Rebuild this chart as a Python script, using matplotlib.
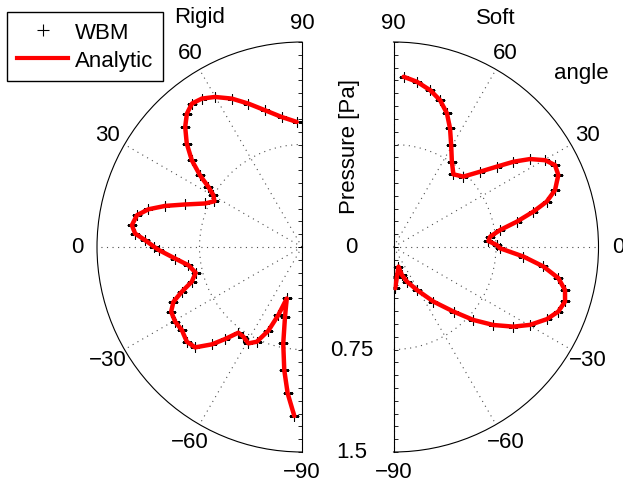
import numpy as np
import matplotlib
matplotlib.use('Agg')
import matplotlib.pyplot as plt
import matplotlib.transforms as mtransforms
from matplotlib.lines import Line2D
from matplotlib.ticker import MultipleLocator

plt.rcParams['font.family'] = ['Liberation Sans', 'DejaVu Sans']

# ---------------- data (angle in degrees, pressure in Pa) ----------------
rigid_angle = [87.6, 81.1, 74.9, 69.5, 64.7, 59.9, 56.0, 52.5, 49.2, 45.8,
               41.9, 38.2, 35.1, 32.7, 30.3, 27.6, 24.2, 20.0, 16.7, 13.8,
               10.9, 7.3, 4.6, 2.5, 0.0, -1.3, -5.2, -9.1, -13.6, -17.5,
               -20.4, -23.1, -26.3, -30.5, -34.7, -39.4, -43.2, -47.2, -50.1, -53.4,
               -56.8, -60.9, -64.5, -68.1, -70.8, -73.5, -76.3, -79.0, -81.8, -84.4,
               -87.4]
rigid_pressure = [0.916, 0.963, 1.036, 1.120, 1.201, 1.269, 1.310, 1.323, 1.289, 1.226,
                  1.133, 1.026, 0.912, 0.814, 0.751, 0.723, 0.777, 0.910, 1.046, 1.157,
                  1.230, 1.255, 1.225, 1.149, 1.080, 1.045, 0.932, 0.842, 0.800, 0.846,
                  0.938, 1.023, 1.068, 1.077, 1.069, 1.091, 1.073, 0.971, 0.878, 0.781,
                  0.784, 0.807, 0.768, 0.660, 0.528, 0.393, 0.525, 0.719, 0.910, 1.076,
                  1.238]

soft_angle = [86.6, 81.9, 76.8, 72.4, 68.2, 64.5, 60.5, 55.6, 50.5, 45.2,
              41.0, 37.9, 35.4, 32.8, 29.8, 26.9, 23.6, 19.4, 16.5, 14.2,
              11.6, 9.05, 6.1, 3.6, 1.1, -0.7, -4.2, -7.4, -10.7, -14.1,
              -17.6, -21.4, -25.2, -29.7, -33.6, -38.0, -42.4, -47.1, -53.8, -61.4,
              -68.8, -73.3, -75.7, -83.4, -87.6]
soft_pressure = [1.248, 1.221, 1.178, 1.127, 1.053, 0.961, 0.857, 0.756, 0.689, 0.726,
                 0.840, 0.957, 1.077, 1.188, 1.278, 1.325, 1.316, 1.253, 1.169, 1.056,
                 0.921, 0.790, 0.711, 0.696, 0.756, 0.780, 0.953, 1.106, 1.228, 1.294,
                 1.317, 1.295, 1.240, 1.150, 1.053, 0.927, 0.792, 0.645, 0.495, 0.358,
                 0.271, 0.214, 0.148, 0.218, 0.302]

theta_ticks = [-90, -60, -30, 0, 30, 60, 90]
theta_labels = ['\u221290', '\u221260', '\u221230', '0', '30', '60', '90']
r_ticks = [0, 0.75, 1.5]
r_labels = ['0', '0.75', '1.5']
r_max = 1.5
series_labels = ['WBM', 'Analytic']

# ---------------- figure ----------------
W, H = 623, 485
fig = plt.figure(figsize=(W / 100, H / 100), dpi=100)
FS = 16


def make_ax(x_center, zero_loc, direction):
    # square box (polar axes keep equal aspect); the half-disc is centred in it
    side = 410
    rect = [(x_center - side / 2) / W, 32 / H, side / W, side / H]
    ax = fig.add_axes(rect, projection='polar')
    ax.set_theta_zero_location(zero_loc)
    ax.set_theta_direction(direction)
    ax.set_thetamin(-90)
    ax.set_thetamax(90)
    ax.set_rlim(0, r_max)
    ax.set_thetagrids(theta_ticks, theta_labels, fontsize=FS)
    ax.set_rgrids([0.75], labels=[''])
    ax.yaxis.set_minor_locator(MultipleLocator(r_max / 16))
    ax.grid(True, linestyle=(0, (1, 4)), color='0.3', linewidth=0.8)
    ax.tick_params(axis='x', length=0, pad=7)
    ax.yaxis.set_tick_params(which='both', tick1On=True, tick2On=True,
                             label1On=False, label2On=False,
                             direction='in', length=3, width=0.6, color='k')
    for sp in ax.spines.values():
        sp.set_color('k')
        sp.set_linewidth(0.8)
    return ax


axL = make_ax(199.5, 'W', -1)
axR = make_ax(496.0, 'E', 1)

for ax, ang, p in [(axL, rigid_angle, rigid_pressure), (axR, soft_angle, soft_pressure)]:
    th = np.deg2rad(ang)
    ax.plot(th, p, linestyle='none', marker='+', ms=7, mec='k', mew=0.8, zorder=3)
    ax.plot(th, p, color='red', lw=3.2, zorder=4, solid_capstyle='round')

# radial tick labels (between the two half plots)
off = mtransforms.offset_copy(axR.transData, fig=fig, x=-42, y=0, units='dots')
for r, lab in zip(r_ticks, r_labels):
    axR.text(np.deg2rad(-90), r, lab, transform=off, ha='center', va='center', fontsize=FS)

fig.text(350 / W, 1 - 146 / H, 'Pressure [Pa]', rotation=90, ha='center', va='center', fontsize=FS)
fig.text(200 / W, 1 - 18 / H, 'Rigid', ha='center', va='center', fontsize=FS)
fig.text(496 / W, 1 - 18 / H, 'Soft', ha='center', va='center', fontsize=FS)
fig.text(581 / W, 1 - 74 / H, 'angle', ha='center', va='center', fontsize=FS)

handles = [Line2D([], [], linestyle='none', marker='+', color='k', ms=8, mew=0.8),
           Line2D([], [], color='red', lw=3)]
leg = fig.legend(handles, series_labels, loc='upper left',
                 bbox_to_anchor=(7 / W, 1 - 13 / H), bbox_transform=fig.transFigure,
                 fancybox=False, edgecolor='k', framealpha=1, borderaxespad=0,
                 fontsize=FS, handlelength=2.3, handletextpad=0.3,
                 borderpad=0.45, labelspacing=0.3)
leg.get_frame().set_linewidth(1.0)

fig.savefig('out.png', dpi=100, facecolor='white')
